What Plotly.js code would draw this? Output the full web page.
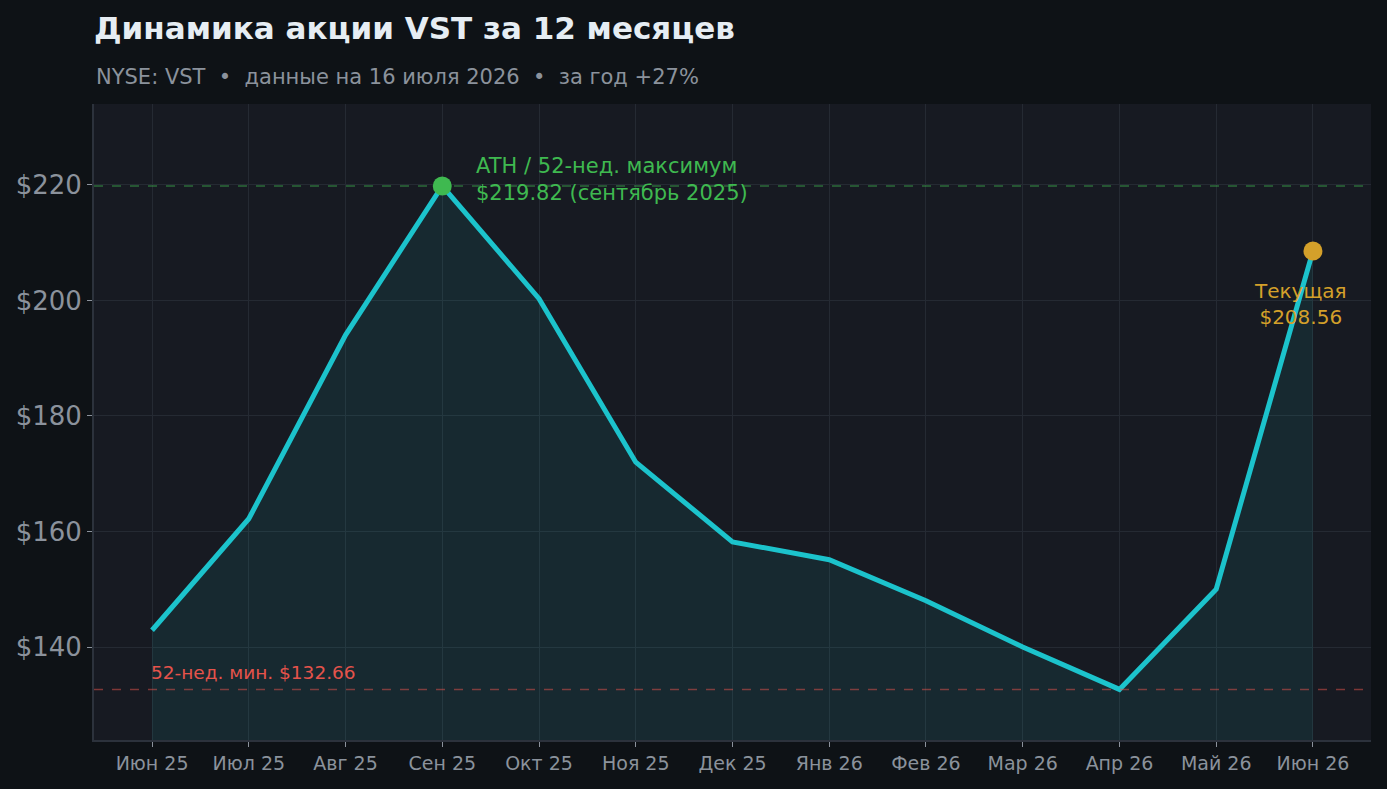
<!DOCTYPE html>
<html>
<head>
<meta charset="utf-8">
<script src="https://cdn.plot.ly/plotly-3.0.1.min.js"></script>
<style>
  html, body { margin: 0; padding: 0; background: #0e1216; }
  #chart { width: 1387px; height: 789px; }
</style>
</head>
<body>
<div id="chart"></div>
<script>
const MONTHS = ["Июн 25", "Июл 25", "Авг 25", "Сен 25", "Окт 25", "Ноя 25", "Дек 25",
  "Янв 26", "Фев 26", "Мар 26", "Апр 26", "Май 26", "Июн 26"];
const PRICES = [142.9, 162.2, 194.0, 219.82, 200.3, 172.0, 158.2, 155.1, 148.0, 140.0, 132.66, 150.0, 208.56];
const Y_TICKS = [140, 160, 180, 200, 220];
const HIGH_52W = 219.82;
const LOW_52W = 132.66;
const HIGH_IDX = 3;
const LAST_IDX = 12;

const FONT = "DejaVu Sans, sans-serif";
const TEAL = "#1cc3cc";
const GREEN = "#3fb950";
const GOLD = "#d4a02a";
const RED = "#e5534b";

const xIdx = MONTHS.map((_, i) => i);

const traces = [
  {
    type: "scatter",
    mode: "lines",
    x: xIdx,
    y: PRICES,
    fill: "tozeroy",
    fillcolor: "rgba(28,195,204,0.09)",
    line: { color: TEAL, width: 5 },
    hoverinfo: "skip",
  },
  {
    type: "scatter",
    mode: "markers",
    x: [HIGH_IDX],
    y: [HIGH_52W],
    marker: { color: GREEN, size: 19 },
    hoverinfo: "skip",
  },
  {
    type: "scatter",
    mode: "markers",
    x: [LAST_IDX],
    y: [PRICES[LAST_IDX]],
    marker: { color: GOLD, size: 19 },
    hoverinfo: "skip",
  },
];

const layout = {
  width: 1387,
  height: 789,
  showlegend: false,
  paper_bgcolor: "#0e1216",
  plot_bgcolor: "#171a22",
  margin: { t: 104, r: 16, b: 49, l: 94 },
  font: { family: FONT, color: "#8b929c" },
  title: {
    text: "<b>Динамика акции VST за 12 месяцев</b>",
    font: { family: FONT, size: 31, color: "#e6edf3" },
    xref: "paper",
    x: 0,
    xanchor: "left",
    y: 0.9645,
    yanchor: "middle",
  },
  xaxis: {
    range: [-0.6, 12.6],
    tickvals: xIdx,
    ticktext: MONTHS,
    tickfont: { size: 19, color: "#8b929c" },
    ticks: "outside",
    ticklen: 5,
    tickcolor: "#8b929c",
    showgrid: true,
    gridcolor: "#252a33",
    zeroline: false,
    showline: true,
    linecolor: "#2c323c",
    linewidth: 2,
  },
  yaxis: {
    range: [123.9, 234.0],
    tickvals: Y_TICKS,
    ticktext: Y_TICKS.map((v) => `$${v}`),
    tickfont: { size: 26, color: "#8b929c" },
    ticks: "outside",
    ticklen: 5,
    tickcolor: "#8b929c",
    showgrid: true,
    gridcolor: "#252a33",
    zeroline: false,
    showline: true,
    linecolor: "#2c323c",
    linewidth: 2,
  },
  shapes: [
    {
      type: "line", xref: "paper", x0: 0, x1: 1, yref: "y", y0: HIGH_52W, y1: HIGH_52W,
      line: { color: "rgba(63,185,80,0.5)", width: 1.5, dash: "dash" },
    },
    {
      type: "line", xref: "paper", x0: 0, x1: 1, yref: "y", y0: LOW_52W, y1: LOW_52W,
      line: { color: "rgba(229,83,75,0.5)", width: 1.5, dash: "dash" },
    },
  ],
  annotations: [
    {
      xref: "paper", yref: "paper", x: 0, y: 1.0425,
      xanchor: "left", yanchor: "middle", showarrow: false,
      text: "NYSE: VST  •  данные на 16 июля 2026  •  за год +27%",
      font: { family: FONT, size: 21, color: "#8b929c" },
    },
    {
      x: HIGH_IDX, y: HIGH_52W, xanchor: "left", yanchor: "middle",
      xshift: 32, yshift: 6.5, showarrow: false, align: "left",
      text: `ATH / 52-нед. максимум<br>$${HIGH_52W.toFixed(2)} (сентябрь 2025)`,
      font: { family: FONT, size: 21, color: GREEN },
    },
    {
      x: LAST_IDX, y: PRICES[LAST_IDX], xanchor: "center", yanchor: "top",
      xshift: -12, yshift: -26, showarrow: false, align: "center",
      text: `Текущая<br>$${PRICES[LAST_IDX].toFixed(2)}`,
      font: { family: FONT, size: 20, color: GOLD },
    },
    {
      x: 0, y: LOW_52W, xanchor: "left", yanchor: "bottom",
      xshift: -3, yshift: 4, showarrow: false,
      text: `52-нед. мин. $${LOW_52W.toFixed(2)}`,
      font: { family: FONT, size: 18.5, color: RED },
    },
  ],
};

Plotly.newPlot("chart", traces, layout, { displayModeBar: false, staticPlot: true });
</script>
</body>
</html>
